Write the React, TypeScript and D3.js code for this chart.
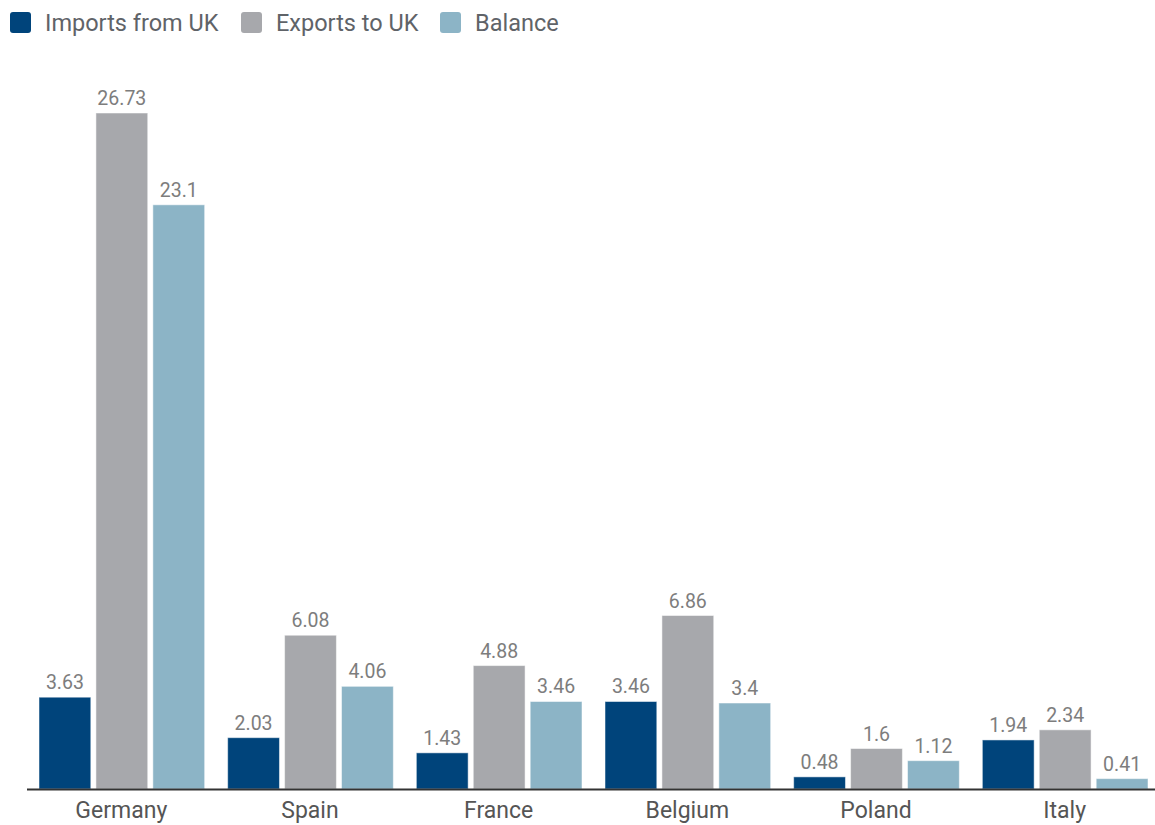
import React from "react";
import * as d3 from "d3";

const countries = ["Germany", "Spain", "France", "Belgium", "Poland", "Italy"];
const seriesNames = ["Imports from UK", "Exports to UK", "Balance"];
const imports = [3.63, 2.03, 1.43, 3.46, 0.48, 1.94];
const exportsUK = [26.73, 6.08, 4.88, 6.86, 1.6, 2.34];
const balance = [23.1, 4.06, 3.46, 3.4, 1.12, 0.41];
const colors = ["#00447b", "#a7a8ac", "#8cb4c6"];

const W = 1155;
const H = 825;
const left = 27;
const right = 1159;
const baseline = 789;
const font = "Roboto, 'Noto Sans', sans-serif";

export default function App() {
  const series = [imports, exportsUK, balance];
  const x0 = d3.scaleBand<string>().domain(countries).range([left, right]).paddingInner(0).paddingOuter(0);
  const x1 = d3
    .scaleBand<number>()
    .domain([0, 1, 2])
    .range([12, x0.bandwidth() - 11])
    .paddingInner(0.09);
  const y = d3.scaleLinear().domain([0, 26.73]).range([baseline, 113]);

  const legendX = [10, 241, 440];

  return (
    <svg
      width={W}
      height={H}
      style={{ position: "absolute", left: 0, top: 0, background: "#fff" }}
      fontFamily={font}
    >
      {seriesNames.map((s, i) => (
        <g key={s} transform={`translate(${legendX[i]},12)`}>
          <rect width={21} height={21} rx={3} fill={colors[i]} />
          <text x={35} y={18.5} fontSize={23.5} fill="#5f6368">
            {s}
          </text>
        </g>
      ))}
      {countries.map((c, ci) => (
        <g key={c} transform={`translate(${x0(c)},0)`}>
          {series.map((vals, si) => {
            const v = vals[ci];
            const bx = x1(si)!;
            const bw = x1.bandwidth();
            return (
              <g key={si}>
                <rect
                  x={bx}
                  y={y(v)}
                  width={bw}
                  height={baseline - y(v)}
                  fill={colors[si]}
                  stroke="#ffffff"
                  strokeOpacity={0.5}
                  strokeWidth={1}
                />
                <text
                  x={bx + bw / 2}
                  y={y(v) - 8}
                  textAnchor="middle"
                  fontSize={19.5}
                  fill="#7d7d7d"
                >
                  {v}
                </text>
              </g>
            );
          })}
          <text
            x={x0.bandwidth() / 2}
            y={818}
            textAnchor="middle"
            fontSize={23}
            fill="#555"
          >
            {c}
          </text>
        </g>
      ))}
      <line x1={left} x2={W} y1={baseline + 0.5} y2={baseline + 0.5} stroke="#333" strokeWidth={2} />
    </svg>
  );
}
